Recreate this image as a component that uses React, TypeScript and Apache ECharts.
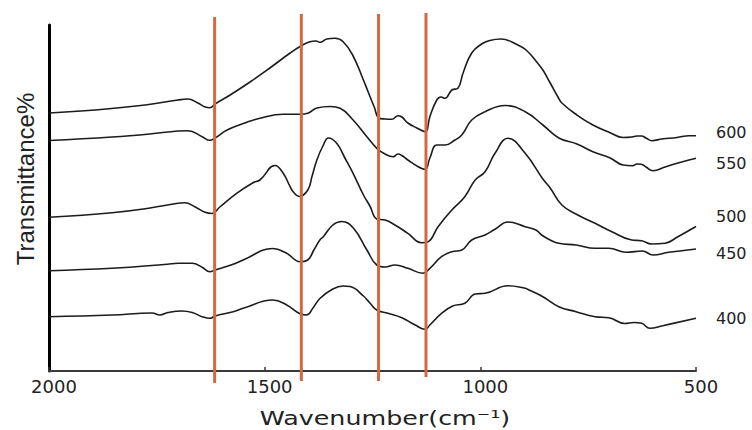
import React, { useEffect, useRef } from "react";
import * as echarts from "echarts";

// [wavenumber (cm-1), transmittance (arbitrary offset units)]
const curve600: [number, number][] = [
  [2000, 258], [1893, 261], [1777, 266], [1701, 271], [1678, 272], [1655, 268], [1638, 264], [1627, 263.3],
  [1615, 267], [1580, 276], [1534, 289], [1488, 303], [1441, 318], [1416, 325], [1395, 329.3], [1381, 330],
  [1372, 328.7], [1356, 332], [1337, 332.7], [1318, 329.3], [1295, 315], [1272, 292], [1260, 279], [1246, 264],
  [1235, 253], [1221, 252], [1205, 251.7], [1191, 255.3], [1182, 254], [1168, 248], [1147, 243], [1128, 239.3],
  [1117, 254.3], [1101, 271], [1091, 274], [1082, 272.7], [1066, 281], [1052, 282.7], [1040, 298], [1020, 318],
  [997, 327], [978, 330.5], [952, 332], [913, 326], [894, 321], [873, 311], [855, 301], [838, 288], [820, 274],
  [811, 268], [776, 256], [739, 246], [699, 238.3], [669, 233.5], [649, 234], [637, 235], [626, 235], [616, 233],
  [602, 230.3], [579, 232], [544, 233.5], [516, 235.3], [500, 235.3],
];

const curve550: [number, number][] = [
  [2000, 230.5], [1854, 234], [1766, 237], [1701, 240], [1678, 240.3], [1645, 234.3], [1627, 230.7], [1615, 233],
  [1587, 241], [1546, 248], [1511, 252.7], [1457, 256.7], [1418, 256.7], [1400, 257.7], [1379, 263], [1348, 264.5],
  [1325, 262.7], [1295, 251], [1263, 234.3], [1240, 222.7], [1221, 217], [1202, 214.3], [1191, 217], [1182, 215.5],
  [1168, 211], [1144, 204.3], [1128, 201.7], [1117, 213], [1101, 226], [1082, 226], [1059, 231], [1043, 236],
  [1020, 251], [989, 259.3], [943, 265.5], [896, 259.3], [855, 246], [818, 233], [776, 227], [739, 219.3],
  [699, 213], [669, 206], [647, 205.3], [637, 207], [627, 206.7], [616, 204], [600, 200.3], [570, 204.3],
  [531, 209.3], [500, 212.7],
];

const curve500: [number, number][] = [
  [2000, 153.7], [1854, 158.3], [1766, 163], [1701, 167.7], [1685, 168.3], [1662, 164.3], [1638, 158.7],
  [1622, 157.5], [1604, 164], [1565, 177.7], [1527, 188.3], [1511, 191], [1476, 205.5], [1457, 197.7],
  [1441, 184.3], [1434, 179.3], [1420, 174.5], [1400, 181], [1390, 195], [1379, 211], [1365, 225], [1352, 233],
  [1333, 227.7], [1314, 213], [1295, 197.7], [1271, 176], [1256, 165], [1240, 152], [1221, 151], [1198, 146],
  [1168, 137.7], [1136, 128.3], [1121, 129.3], [1098, 144.3], [1066, 161], [1036, 174.3], [1012, 191],
  [989, 199.3], [966, 217.7], [936, 232.7], [896, 217.7], [855, 192], [838, 183], [811, 166], [774, 156],
  [734, 147.7], [695, 139.3], [649, 131], [626, 130.3], [603, 127], [572, 127.7], [542, 134.3], [500, 144.5],
];

const curve450: [number, number][] = [
  [2000, 100.3], [1854, 102.7], [1726, 106.7], [1701, 107.7], [1668, 107.7], [1645, 103.7], [1627, 99.3],
  [1615, 101], [1573, 106.7], [1550, 111], [1481, 122.5], [1449, 117.7], [1418, 109.3], [1400, 111], [1386, 121],
  [1372, 131], [1364, 134.3], [1342, 146], [1321, 149.5], [1294, 142.7], [1263, 121], [1240, 106], [1221, 104],
  [1198, 106], [1168, 102.7], [1133, 97.7], [1117, 102.7], [1090, 114.3], [1066, 119.3], [1043, 121], [1020, 131],
  [989, 136], [966, 141.7], [936, 149], [896, 144.3], [871, 141], [858, 136], [838, 131], [818, 127.7], [778, 126],
  [734, 122.7], [702, 122.7], [662, 118.7], [624, 120], [600, 116], [563, 118.7], [500, 122],
];

const curve400: [number, number][] = [
  [2000, 54.3], [1854, 56], [1761, 58], [1743, 56], [1724, 58.5], [1692, 60], [1668, 58.5], [1645, 54.3],
  [1627, 52.7], [1615, 55], [1573, 59.3], [1550, 62.7], [1481, 71], [1449, 66], [1418, 57.2], [1403, 56],
  [1388, 63], [1372, 72.5], [1342, 82], [1318, 85], [1302, 84.5], [1271, 75], [1256, 68], [1240, 61],
  [1214, 57.7], [1182, 53.3], [1151, 46], [1128, 41.7], [1117, 46], [1090, 57.7], [1064, 65], [1036, 67.7],
  [1012, 77], [989, 77.7], [936, 85.2], [896, 82.7], [887, 81], [855, 74.3], [818, 64.3], [778, 59.3],
  [734, 54.3], [702, 53.3], [665, 47.5], [644, 48.5], [626, 47.7], [607, 42.7], [577, 45.3], [500, 52.7],
];

const seriesNames = ["600", "550", "500", "450", "400"];
const labelShiftY = [-3, 5.5, -10.5, 4.7, 0];

// vertical reference lines (cm-1) and their extents
const bandPositions = [1616, 1415, 1236, 1126];
const bandTops = [354, 357, 357, 358];
const bandBottoms = [-12, -10, -10, -6];

const xTicks = { min: 500, max: 2000, interval: 500 };

export default function App() {
  const ref = useRef<HTMLDivElement>(null);

  useEffect(() => {
    if (!ref.current) return;
    const chart = echarts.init(ref.current, null, { renderer: "svg" });
    const curves = [curve600, curve550, curve500, curve450, curve400];

    const curveSeries = curves.map((data, i) => ({
      type: "line",
      name: seriesNames[i],
      data,
      showSymbol: false,
      smooth: 0.45,
      lineStyle: { color: "#1c1c1c", width: 1.6 },
      z: 2,
      endLabel: {
        show: true,
        formatter: seriesNames[i],
        align: "left",
        verticalAlign: "middle",
        distance: 0,
        offset: [20, labelShiftY[i]],
        fontFamily: "DejaVu Sans",
        fontSize: 16,
        color: "#222",
      },
    }));

    const bandSeries = bandPositions.map((p, i) => ({
      type: "line",
      name: "band" + i,
      data: [
        [p, bandTops[i]],
        [p, bandBottoms[i]],
      ],
      showSymbol: false,
      clip: false,
      lineStyle: { color: "#d2693f", width: 3 },
      z: 5,
    }));

    chart.setOption({
      animation: false,
      grid: { left: 49, right: 56, top: 25, bottom: 59 },
      xAxis: {
        type: "value",
        min: xTicks.min,
        max: xTicks.max,
        interval: xTicks.interval,
        inverse: true,
        axisLine: { onZero: false, lineStyle: { color: "#3a3a3a", width: 2 } },
        axisTick: { show: true, inside: true, length: 4, lineStyle: { color: "#3a3a3a", width: 1.5 } },
        axisLabel: {
          color: "#222",
          fontFamily: "DejaVu Sans",
          fontSize: 18,
          margin: 6,
          padding: [0, 0, 0, 10],
          formatter: (v: number) => String(v),
        },
        splitLine: { show: false },
      },
      yAxis: {
        type: "value",
        min: 0,
        max: 346,
        axisLine: { show: true, onZero: false, lineStyle: { color: "#000", width: 3 } },
        axisTick: { show: false },
        axisLabel: { show: false },
        splitLine: { show: false },
        name: "Transmittance%",
        nameLocation: "middle",
        nameGap: 12,
        nameRotate: 90,
        nameTextStyle: {
          fontFamily: "Liberation Sans",
          fontSize: 24,
          color: "#222",
          padding: [0, 0, 0, 38],
        },
      },
      graphic: [
        {
          type: "text",
          x: 385,
          y: 418,
          scaleX: 1.3,
          style: {
            text: "Wavenumber(cm⁻¹)",
            font: '19.5px "DejaVu Sans"',
            fill: "#222",
            align: "center",
            verticalAlign: "middle",
            textAlign: "center",
            textVerticalAlign: "middle",
          },
        },
      ],
      series: [...curveSeries, ...bandSeries],
    });

    return () => chart.dispose();
  }, []);

  return (
    <div
      ref={ref}
      style={{ position: "fixed", left: 0, top: 0, width: 752, height: 430, background: "#fff" }}
    />
  );
}
